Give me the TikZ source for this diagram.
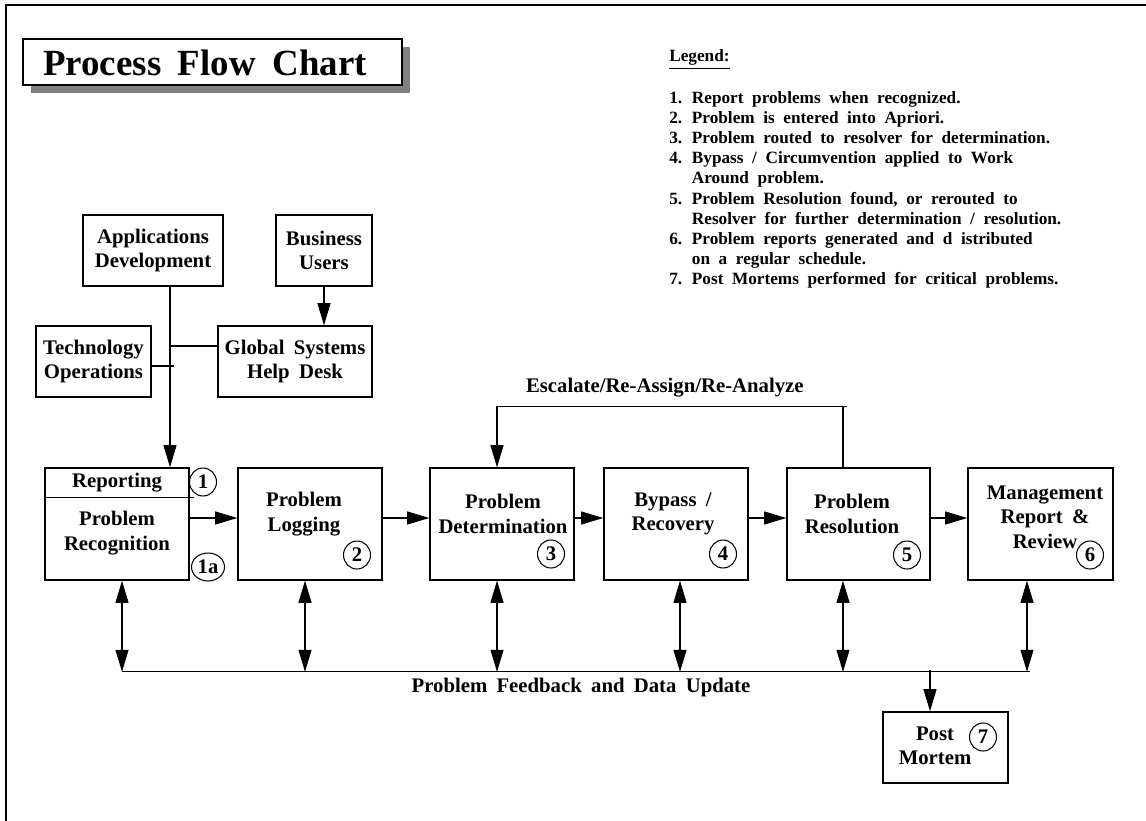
\documentclass[tikz,border=0pt]{standalone}
\usepackage{fontspec}
\setmainfont{Liberation Serif}
\usetikzlibrary{arrows.meta,shapes.geometric,shadows}

\newcommand{\boxfont}{\fontsize{11.8}{14}\selectfont\bfseries\spaceskip=0.45em\relax}
\newcommand{\legendfont}{\fontsize{9.8}{11.45}\selectfont\bfseries\spaceskip=0.5em\relax}
\newcommand{\titlefont}{\fontsize{21}{25}\selectfont\bfseries\spaceskip=0.45em\relax}

\begin{document}
\begin{tikzpicture}[x=0.02cm,y=-0.02cm,>={Triangle[length=0.44cm,width=0.26cm]},
  stepbox/.style={rectangle,draw=black,line width=0.9pt,minimum width=2.88cm,minimum height=2.24cm,inner sep=0pt},
  srcbox/.style={rectangle,draw=black,line width=0.9pt,minimum height=1.42cm,inner sep=0pt,align=center,font=\boxfont},
  steptext/.style={align=center,font=\boxfont,inner sep=0pt},
  marker/.style={ellipse,draw=black,line width=0.6pt,minimum width=0.54cm,minimum height=0.56cm,inner sep=0pt,font=\boxfont},
  link/.style={draw=black,line width=0.6pt}]
\useasboundingbox (0,0) rectangle (1146,821);
% frame
\draw[line width=1.2pt] (6,830) -- (6,5) -- (1150,5);

% title
\node[draw=black,line width=1.2pt,fill=white,minimum width=7.58cm,minimum height=0.92cm,inner sep=0pt,
  drop shadow={shadow xshift=0.16cm,shadow yshift=-0.16cm,opacity=1,fill=black!50}] (titlebox) at (212.5,62) {};
\node[font=\titlefont,inner sep=0pt] (title) at (205,63) {Process Flow Chart};

% legend
\node[font=\legendfont,inner sep=0pt,anchor=base west] (legendhead) at (669,62) {\underline{Legend:}};
\node[font=\legendfont,inner sep=0pt,anchor=north west] (legendlist) at (669,89) {%
\begin{tabular}{@{}l@{\hspace{5.5pt}}l@{}}
1. & Report problems when recognized.\\
2. & Problem is entered into Apriori.\\
3. & Problem routed to resolver for determination.\\
4. & Bypass / Circumvention applied to Work\\
   & Around problem.\\
5. & Problem Resolution found, or rerouted to\\
   & Resolver for further determination / resolution.\\
6. & Problem reports generated and d istributed\\
   & on a regular schedule.\\
7. & Post Mortems performed for critical problems.
\end{tabular}};

% sources
\node[srcbox,minimum width=2.8cm] (appdev) at (153,250.5) {Applications\\Development};
\node[srcbox,minimum width=1.92cm] (bizusers) at (324,250.5) {Business\\Users};
\node[srcbox,minimum width=2.3cm] (techops) at (93.5,361.5) {Technology\\Operations};
\node[srcbox,minimum width=3.08cm] (helpdesk) at (295,361.5) {Global Systems\\Help Desk};

% process steps
\node[stepbox] (recog) at (117,524) {};
\node[stepbox] (logging) at (310,524) {};
\node[stepbox] (determ) at (502,524) {};
\node[stepbox] (bypass) at (676,524) {};
\node[stepbox,minimum width=2.86cm] (resol) at (858.5,524) {};
\node[stepbox,minimum width=2.9cm] (mgmt) at (1040.5,524) {};
\node[srcbox,minimum width=2.5cm] (postmortem) at (945.5,747.5) {};

\node[steptext] (reportingtext) at (117,483) {Reporting};
\node[steptext] (recogtext) at (117,533) {Problem\\Recognition};
\node[steptext] (loggingtext) at (304,514) {Problem\\Logging};
\node[steptext] (determtext) at (503,514) {Problem\\Determination};
\node[steptext] (bypasstext) at (673,514) {Bypass /\\Recovery};
\node[steptext] (resoltext) at (852,514) {Problem\\Resolution};
\node[steptext] (mgmttext) at (1045,517) {Management\\Report \&\\Review};
\node[steptext] (pmtext) at (935,746) {Post\\Mortem};

% numbers
\node[marker] (n1) at (203,482) {1};
\node[marker,minimum width=0.66cm] (n1a) at (208,567) {1a};
\node[marker] (n2) at (357,555) {2};
\node[marker] (n3) at (551,554) {3};
\node[marker] (n4) at (723,554) {4};
\node[marker] (n5) at (907,555) {5};
\node[marker] (n6) at (1090,555) {6};
\node[marker] (n7) at (983,737) {7};

\draw[link] ([shift={(0,30)}]recog.north west) -- ([shift={(4,30)}]recog.north east);

% feeds into reporting
\draw[link,->] ([shift={(17,0)}]appdev.south) -- ([shift={(53,0)}]recog.north);
\draw[link] ([shift={(0,-15.5)}]helpdesk.west) -- ++(-48,0);
\draw[link] ([shift={(0,4.5)}]techops.east) -- ++(22,0);
\draw[link,->] (bizusers) -- (bizusers |- helpdesk.north);

% main flow
\draw[link,->] ([shift={(0,-6)}]recog.east) -- ([shift={(0,-6)}]logging.west);
\draw[link,->] ([shift={(0,-6)}]logging.east) -- ([shift={(0,-6)}]determ.west);
\draw[link,->] ([shift={(0,-6)}]determ.east) -- ([shift={(0,-6)}]bypass.west);
\draw[link,->] ([shift={(0,-6)}]bypass.east) -- ([shift={(0,-6)}]resol.west);
\draw[link,->] ([shift={(0,-6)}]resol.east) -- ([shift={(0,-6)}]mgmt.west);

% escalate loop
\draw[link] ([shift={(-15.5,0)}]resol.north) -- ++(0,-61) -- ++(4,0);
\draw[link,->] ([shift={(-15.5,-61)}]resol.north)
  -- node[above=4.8pt,pos=0.515,font=\boxfont,inner sep=0pt] (esclabel) {Escalate/Re-Assign/Re-Analyze}
  ([shift={(-5,-61)}]determ.north) -- ([shift={(-5,0)}]determ.north);

% feedback bus
\draw[link,<->] ([shift={(5,0)}]recog.south) -- ([shift={(5,91)}]recog.south);
\draw[link,<->] ([shift={(-5,0)}]logging.south) -- ([shift={(-5,91)}]logging.south);
\draw[link,<->] ([shift={(-5,0)}]determ.south) -- ([shift={(-5,91)}]determ.south);
\draw[link,<->] ([shift={(4,0)}]bypass.south) -- ([shift={(4,91)}]bypass.south);
\draw[link,<->] ([shift={(-15.5,0)}]resol.south) -- ([shift={(-15.5,91)}]resol.south);
\draw[link,<->] ([shift={(-13.5,0)}]mgmt.south) -- ([shift={(-13.5,91)}]mgmt.south);
\draw[link] ([shift={(5,91)}]recog.south)
  -- node[below=3.4pt,pos=0.5055,font=\boxfont,inner sep=0pt] (feedback) {Problem Feedback and Data Update}
  ([shift={(-10.5,91)}]mgmt.south);
\draw[link,->] ([shift={(-15.5,-41)}]postmortem.north) -- ([shift={(-15.5,0)}]postmortem.north);
\end{tikzpicture}
\end{document}
